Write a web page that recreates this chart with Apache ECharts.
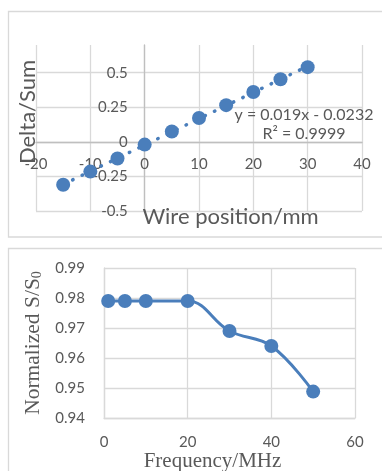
<!DOCTYPE html>
<html>
<head>
<meta charset="utf-8">
<script src="https://cdn.jsdelivr.net/npm/echarts@6/dist/echarts.min.js"></script>
<style>
html,body{margin:0;padding:0;background:#fff;}
#chart{width:382px;height:471px;}
</style>
</head>
<body>
<div id="chart"></div>
<script>
// Top chart: Delta/Sum vs wire position
const wirePos = [-15, -10, -5, 0, 5, 10, 15, 20, 25, 30];
const deltaSum = [-0.31, -0.215, -0.12, -0.02, 0.075, 0.172, 0.265, 0.36, 0.452, 0.54];
const trendX = [-15, 30];
const trendY = [-0.308, 0.547];
const trendText = ['y = 0.019x - 0.0232', 'R² = 0.9999'];
const topXTicks = [-20, -10, 0, 10, 20, 30, 40];
const topYTicks = [-0.5, -0.25, 0, 0.25, 0.5];

// Bottom chart: normalized S/S0 vs frequency
const freq = [1, 5, 10, 20, 30, 40, 50];
const normS = [0.979, 0.979, 0.979, 0.979, 0.969, 0.964, 0.9488];
const botXTicks = [0, 20, 40, 60];
const botYTicks = [0.94, 0.95, 0.96, 0.97, 0.98, 0.99];

const BLUE = '#4a7ebb';
const GRAY = '#595959';
const GRID = '#d9d9d9';
const SANS = 'Lato';
const SERIF = 'Liberation Serif';

const chart = echarts.init(document.getElementById('chart'));
chart.setOption({
  animation: false,
  backgroundColor: '#fff',
  graphic: [
    { type: 'rect', shape: { x: 8.5, y: 11.5, width: 400, height: 225.5 }, style: { fill: 'none', stroke: GRID, lineWidth: 1.3 }, z: -10 },
    { type: 'rect', shape: { x: 8.5, y: 248.5, width: 400, height: 260 }, style: { fill: 'none', stroke: GRID, lineWidth: 1.3 }, z: -10 },
    { type: 'text', x: 304, y: 105.5, style: { text: trendText.join('\n'), font: '16px ' + SANS, fill: GRAY, align: 'center', verticalAlign: 'top', lineHeight: 19 }, z: 10 }
  ],
  grid: [
    { left: 36, right: 20, top: 45, bottom: 260, outerBoundsMode: 'none', containLabel: false },
    { left: 104, right: 27, top: 268, bottom: 53, outerBoundsMode: 'none', containLabel: false }
  ],
  xAxis: [
    {
      gridIndex: 0, type: 'value', min: topXTicks[0], max: topXTicks[topXTicks.length - 1], interval: 10,
      position: 'bottom', offset: -69.2,
      axisLine: { onZero: false, lineStyle: { color: '#bfbfbf', width: 1.3 } },
      axisTick: { show: false },
      axisLabel: { color: GRAY, fontSize: 15, fontFamily: SANS, margin: 15 },
      splitLine: { lineStyle: { color: GRID, width: 1.3 } },
      name: 'Wire position/mm', nameLocation: 'middle', nameGap: 64,
      nameTextStyle: { color: GRAY, fontSize: 22, fontFamily: SANS, padding: [0, 0, 0, 63] }
    },
    {
      gridIndex: 1, type: 'value', min: botXTicks[0], max: botXTicks[botXTicks.length - 1], interval: 20,
      axisLine: { lineStyle: { color: GRID, width: 1.3 } },
      axisTick: { show: false },
      axisLabel: { color: GRAY, fontSize: 15, fontFamily: SANS, margin: 17 },
      splitLine: { lineStyle: { color: GRID, width: 1.3 } },
      name: 'Frequency/MHz', nameLocation: 'middle', nameGap: 24,
      nameTextStyle: { color: GRAY, fontSize: 21, fontFamily: SERIF, padding: [0, 34, 0, 0] }
    }
  ],
  yAxis: [
    {
      gridIndex: 0, type: 'value', min: topYTicks[0], max: 0.7, interval: 0.25,
      position: 'left', offset: -108.7,
      axisLine: { onZero: false, lineStyle: { color: '#bfbfbf', width: 1.3 } },
      axisTick: { show: false },
      axisLabel: { color: GRAY, fontSize: 15, fontFamily: SANS, margin: 17, showMaxLabel: false },
      splitLine: { showMaxLine: false, lineStyle: { color: GRID, width: 1.3 } },
      name: 'Delta/Sum', nameLocation: 'middle', nameGap: 106,
      nameTextStyle: { color: GRAY, fontSize: 22, fontFamily: SANS, padding: [0, 0, 0, 32] }
    },
    {
      gridIndex: 1, type: 'value', min: botYTicks[0], max: botYTicks[botYTicks.length - 1], interval: 0.01,
      axisLine: { lineStyle: { color: GRID, width: 1.3 } },
      axisTick: { show: false },
      axisLabel: { color: GRAY, fontSize: 15, fontFamily: SANS, margin: 19 },
      splitLine: { lineStyle: { color: GRID, width: 1.3 } },
      name: '{a|Normalized S/S}{b|0}', nameLocation: 'middle', nameGap: 51,
      nameTextStyle: {
        color: GRAY, fontSize: 21.5, fontFamily: SERIF,
        rich: {
          a: { color: GRAY, fontSize: 21.5, fontFamily: SERIF },
          b: { color: GRAY, fontSize: 14, fontFamily: SERIF, verticalAlign: 'bottom', padding: [9, 0, 0, 0] }
        }
      }
    }
  ],
  series: [
    {
      type: 'line', xAxisIndex: 0, yAxisIndex: 0,
      data: trendX.map((x, i) => [x, trendY[i]]),
      showSymbol: false, symbol: 'none',
      lineStyle: { color: BLUE, width: 3.5, type: [0.5, 10], cap: 'round' },
      z: 1, silent: true
    },
    {
      type: 'scatter', xAxisIndex: 0, yAxisIndex: 0,
      data: wirePos.map((x, i) => [x, deltaSum[i]]),
      symbolSize: 14, itemStyle: { color: BLUE, opacity: 1 }, z: 3
    },
    {
      type: 'line', xAxisIndex: 1, yAxisIndex: 1,
      data: freq.map((x, i) => [x, normS[i]]),
      smooth: 0.4, symbol: 'circle', symbolSize: 14,
      lineStyle: { color: BLUE, width: 3 },
      itemStyle: { color: BLUE }
    }
  ]
});
</script>
</body>
</html>
